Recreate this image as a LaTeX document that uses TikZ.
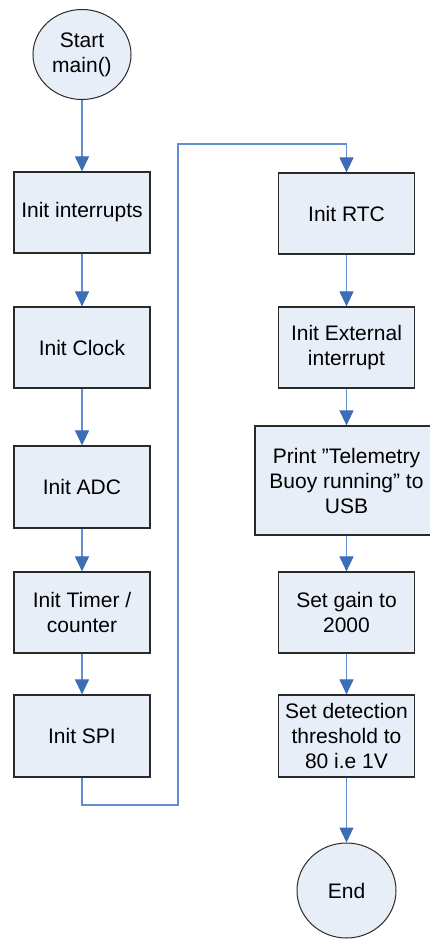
\documentclass[tikz,border=0pt]{standalone}
\usepackage{fontspec}
\setmainfont{Liberation Sans}
\usetikzlibrary{shapes.geometric,arrows.meta}
\definecolor{boxfill}{HTML}{E8EEF7}
\definecolor{boxline}{HTML}{2A2A2A}
\definecolor{linecol}{HTML}{5F8FCF}
\definecolor{headcol}{HTML}{3C6EB6}
\tikzset{
  boxnode/.style={draw=boxline, fill=boxfill, line width=1.2pt, minimum width=136pt, minimum height=81pt, align=center, inner sep=0pt, font=\fontsize{21}{25}\selectfont},
  termnode/.style={ellipse, draw=boxline, fill=boxfill, line width=1pt, inner sep=0pt, align=center, font=\fontsize{21}{25}\selectfont},
  flow/.style={draw=linecol, line width=1.1pt, -{Triangle[width=14pt,length=15pt,fill=headcol,color=headcol]}},
  plainflow/.style={draw=linecol, line width=1.1pt}
}
\begin{document}
\begin{tikzpicture}[x=1pt,y=-1pt]
\clip (0,0) rectangle (430,939);
\useasboundingbox (0,0) rectangle (430,939);
\fill[white] (0,0) rectangle (430,939);
% left column
\node[termnode, minimum width=98pt, minimum height=90pt] (start) at (82,54.5) {Start\\main()};
\node[boxnode] (n1) at (82,212.5) {Init interrupts};
\node[boxnode] (n2) at (82,347.5) {Init Clock};
\node[boxnode, minimum height=82pt] (n3) at (82,487) {Init ADC};
\node[boxnode] (n4) at (82,612.5) {Init Timer /\\counter};
\node[boxnode, minimum height=82pt] (n5) at (82,736) {Init SPI};
% right column
\node[boxnode] (r1) at (346.5,213.5) {Init RTC};
\node[boxnode] (r2) at (346.5,347.5) {Init External\\interrupt};
\node[boxnode, minimum width=183pt, minimum height=109pt] (r3) at (346.5,480.5) {Print ”Telemetry\\Buoy running” to\\USB};
\node[boxnode] (r4) at (346.5,612.5) {Set gain to\\2000};
\node[boxnode, minimum height=82pt] (r5) at (346.5,736) {Set detection\\threshold to\\80 i.e 1V};
\node[termnode, minimum width=99pt, minimum height=95pt] (end) at (346.5,890.5) {End};
% connectors
\coordinate (c1) at (82,805);
\coordinate (c2) at (178,805);
\coordinate (c3) at (178,144);
\coordinate (c4) at (346.5,144);
\draw[flow] (start) -- (n1);
\draw[flow] (n1) -- (n2);
\draw[flow] (n2) -- (n3);
\draw[flow] (n3) -- (n4);
\draw[flow] (n4) -- (n5);
\draw[flow] (n5.south) -- (c1) -- (c2) -- (c3) -- (c4) -- (r1.north);
\draw[flow] (r1) -- (r2);
\draw[flow] (r2) -- (r3);
\draw[flow] (r3) -- (r4);
\draw[flow] (r4) -- (r5);
\draw[flow] (r5) -- (end);
\end{tikzpicture}
\end{document}
